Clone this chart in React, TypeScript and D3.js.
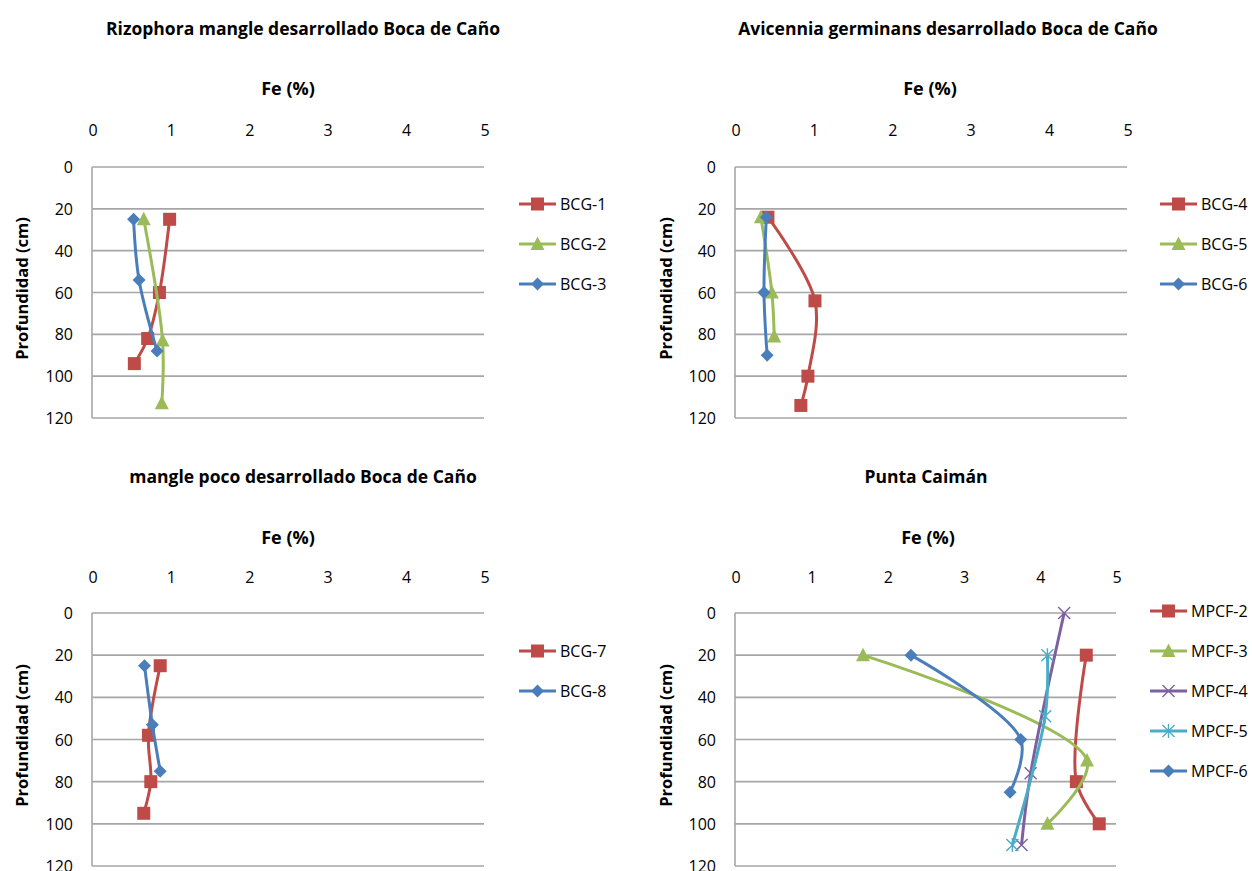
import React from "react";
import * as d3 from "d3";

// ---- data: Fe (%) and depth (cm) per core ----
const bcg1Fe = [0.99, 0.86, 0.71, 0.54];
const bcg1Depth = [25, 60, 82, 94];
const bcg2Fe = [0.66, 0.9, 0.89];
const bcg2Depth = [25, 83, 113];
const bcg3Fe = [0.53, 0.6, 0.83];
const bcg3Depth = [25, 54, 88];

const bcg4Fe = [0.42, 1.02, 0.93, 0.84];
const bcg4Depth = [24, 64, 100, 114];
const bcg5Fe = [0.33, 0.47, 0.5];
const bcg5Depth = [24, 60, 81];
const bcg6Fe = [0.4, 0.37, 0.41];
const bcg6Depth = [24, 60, 90];

const bcg7Fe = [0.87, 0.72, 0.75, 0.66];
const bcg7Depth = [25, 58, 80, 95];
const bcg8Fe = [0.67, 0.77, 0.87];
const bcg8Depth = [25, 53, 75];

const mpcf2Fe = [4.61, 4.48, 4.78];
const mpcf2Depth = [20, 80, 100];
const mpcf3Fe = [1.68, 4.62, 4.1];
const mpcf3Depth = [20, 70, 100];
const mpcf4Fe = [4.32, 3.88, 3.76];
const mpcf4Depth = [0, 76, 110];
const mpcf5Fe = [4.1, 4.07, 3.64];
const mpcf5Depth = [20, 49, 110];
const mpcf6Fe = [2.31, 3.75, 3.61];
const mpcf6Depth = [20, 60, 85];

const feTicks = [0, 1, 2, 3, 4, 5];
const depthTicks = [0, 20, 40, 60, 80, 100, 120];

const RED = "#BE4B48";
const GREEN = "#9BBB59";
const BLUE = "#4A7EBB";
const PURPLE = "#7D60A0";
const CYAN = "#4BACC6";

type Marker = "square" | "triangle" | "diamond" | "x" | "star";

interface Series {
  name: string;
  fe: number[];
  depth: number[];
  color: string;
  marker: Marker;
}

interface Panel {
  title: string;
  series: Series[];
  left: number;
  right: number;
  top: number;
  bottom: number;
  titleY: number;
  titleX: number;
  feX: number;
  feY: number;
  tickY: number;
  tickRight: number;
  yTitleX: number;
  legendX: number;
  legendY: number;
}

const FONT = "'Open Sans', 'Noto Sans', sans-serif";

const panels: Panel[] = [
  {
    title: "Rizophora mangle desarrollado Boca de Caño",
    series: [
      { name: "BCG-1", fe: bcg1Fe, depth: bcg1Depth, color: RED, marker: "square" },
      { name: "BCG-2", fe: bcg2Fe, depth: bcg2Depth, color: GREEN, marker: "triangle" },
      { name: "BCG-3", fe: bcg3Fe, depth: bcg3Depth, color: BLUE, marker: "diamond" },
    ],
    left: 92, right: 484, top: 167, bottom: 418,
    titleX: 303, titleY: 28, feX: 288, feY: 88, tickY: 130, tickRight: 73, yTitleX: 21,
    legendX: 519, legendY: 204,
  },
  {
    title: "Avicennia germinans desarrollado Boca de Caño",
    series: [
      { name: "BCG-4", fe: bcg4Fe, depth: bcg4Depth, color: RED, marker: "square" },
      { name: "BCG-5", fe: bcg5Fe, depth: bcg5Depth, color: GREEN, marker: "triangle" },
      { name: "BCG-6", fe: bcg6Fe, depth: bcg6Depth, color: BLUE, marker: "diamond" },
    ],
    left: 735, right: 1127, top: 167, bottom: 418,
    titleX: 948, titleY: 28, feX: 930, feY: 88, tickY: 130, tickRight: 716, yTitleX: 665,
    legendX: 1160, legendY: 204,
  },
  {
    title: "mangle poco desarrollado Boca de Caño",
    series: [
      { name: "BCG-7", fe: bcg7Fe, depth: bcg7Depth, color: RED, marker: "square" },
      { name: "BCG-8", fe: bcg8Fe, depth: bcg8Depth, color: BLUE, marker: "diamond" },
    ],
    left: 92, right: 484, top: 613, bottom: 866,
    titleX: 303, titleY: 476, feX: 288, feY: 537, tickY: 577, tickRight: 73, yTitleX: 21,
    legendX: 519, legendY: 651,
  },
  {
    title: "Punta Caimán",
    series: [
      { name: "MPCF-2", fe: mpcf2Fe, depth: mpcf2Depth, color: RED, marker: "square" },
      { name: "MPCF-3", fe: mpcf3Fe, depth: mpcf3Depth, color: GREEN, marker: "triangle" },
      { name: "MPCF-4", fe: mpcf4Fe, depth: mpcf4Depth, color: PURPLE, marker: "x" },
      { name: "MPCF-5", fe: mpcf5Fe, depth: mpcf5Depth, color: CYAN, marker: "star" },
      { name: "MPCF-6", fe: mpcf6Fe, depth: mpcf6Depth, color: BLUE, marker: "diamond" },
    ],
    left: 735, right: 1116, top: 613, bottom: 866,
    titleX: 926, titleY: 476, feX: 928, feY: 537, tickY: 577, tickRight: 716, yTitleX: 665,
    legendX: 1150, legendY: 611,
  },
];

function MarkerShape({ type, x, y, color }: { type: Marker; x: number; y: number; color: string }) {
  switch (type) {
    case "square":
      return <rect x={x - 6.5} y={y - 6.5} width={13} height={13} fill={color} />;
    case "triangle":
      return (
        <path
          d={`M${x},${y - 7.5} L${x + 7},${y + 6} L${x - 7},${y + 6} Z`}
          fill={color}
        />
      );
    case "diamond":
      return (
        <path
          d={`M${x},${y - 6.5} L${x + 6.5},${y} L${x},${y + 6.5} L${x - 6.5},${y} Z`}
          fill={color}
        />
      );
    case "x":
      return (
        <path
          d={`M${x - 6},${y - 6} L${x + 6},${y + 6} M${x - 6},${y + 6} L${x + 6},${y - 6}`}
          stroke={color}
          strokeWidth={1.4}
          fill="none"
        />
      );
    case "star":
      return (
        <path
          d={`M${x - 6},${y - 6} L${x + 6},${y + 6} M${x - 6},${y + 6} L${x + 6},${y - 6} M${x},${y - 7} L${x},${y + 7}`}
          stroke={color}
          strokeWidth={1.4}
          fill="none"
        />
      );
  }
}

function PanelChart({ p }: { p: Panel }) {
  const x = d3.scaleLinear().domain([0, 5]).range([p.left, p.right]);
  const y = d3.scaleLinear().domain([0, 120]).range([p.top, p.bottom]);
  const line = d3
    .line<[number, number]>()
    .x((d) => x(d[0]))
    .y((d) => y(d[1]))
    .curve(d3.curveCatmullRom.alpha(0.5));
  const yMid = (p.top + p.bottom) / 2;

  return (
    <g>
      <text
        x={p.titleX}
        y={p.titleY}
        textAnchor="middle"
        dominantBaseline="central"
        fontFamily={FONT}
        fontWeight="bold"
        fontSize={17.5}
        fill="#000"
      >
        {p.title}
      </text>
      <text
        x={p.feX}
        y={p.feY}
        textAnchor="middle"
        dominantBaseline="central"
        fontFamily={FONT}
        fontWeight="bold"
        fontSize={18}
        fill="#000"
      >
        Fe (%)
      </text>
      {feTicks.map((t) => (
        <text
          key={t}
          x={x(t) + 1}
          y={p.tickY}
          textAnchor="middle"
          dominantBaseline="central"
          fontFamily={FONT}
          fontSize={16}
          fill="#000"
        >
          {t}
        </text>
      ))}
      {depthTicks.map((t) => (
        <g key={t}>
          <line x1={p.left} x2={p.right} y1={y(t)} y2={y(t)} stroke="#A6A6A6" strokeWidth={1.6} />
          <text
            x={p.tickRight}
            y={y(t)}
            textAnchor="end"
            dominantBaseline="central"
            fontFamily={FONT}
            fontSize={16}
            fill="#000"
          >
            {t}
          </text>
        </g>
      ))}
      <line x1={p.left} x2={p.left} y1={p.top} y2={p.bottom} stroke="#A6A6A6" strokeWidth={1.6} />
      <text
        transform={`translate(${p.yTitleX},${yMid - 4}) rotate(-90)`}
        textAnchor="middle"
        dominantBaseline="central"
        fontFamily={FONT}
        fontWeight="bold"
        fontSize={16.5}
        fill="#000"
      >
        Profundidad (cm)
      </text>
      {p.series.map((s) => {
        const pts = s.fe.map((v, i) => [v, s.depth[i]] as [number, number]);
        return (
          <g key={s.name}>
            <path d={line(pts) ?? ""} fill="none" stroke={s.color} strokeWidth={3} strokeLinejoin="round" />
            {pts.map((d, i) => (
              <MarkerShape key={i} type={s.marker} x={x(d[0])} y={y(d[1])} color={s.color} />
            ))}
          </g>
        );
      })}
      {p.series.map((s, i) => {
        const ly = p.legendY + i * 40;
        return (
          <g key={"lg" + s.name}>
            <line x1={p.legendX} x2={p.legendX + 37} y1={ly} y2={ly} stroke={s.color} strokeWidth={3} />
            <MarkerShape type={s.marker} x={p.legendX + 18.5} y={ly} color={s.color} />
            <text
              x={p.legendX + 41}
              y={ly}
              dominantBaseline="central"
              fontFamily={FONT}
              fontSize={16}
              fill="#000"
            >
              {s.name}
            </text>
          </g>
        );
      })}
    </g>
  );
}

export default function App() {
  return (
    <svg
      width={1252}
      height={871}
      viewBox="0 0 1252 871"
      style={{ position: "absolute", left: 0, top: 0, background: "#fff" }}
    >
      <rect width={1252} height={871} fill="#fff" />
      {panels.map((p) => (
        <PanelChart key={p.title} p={p} />
      ))}
    </svg>
  );
}
